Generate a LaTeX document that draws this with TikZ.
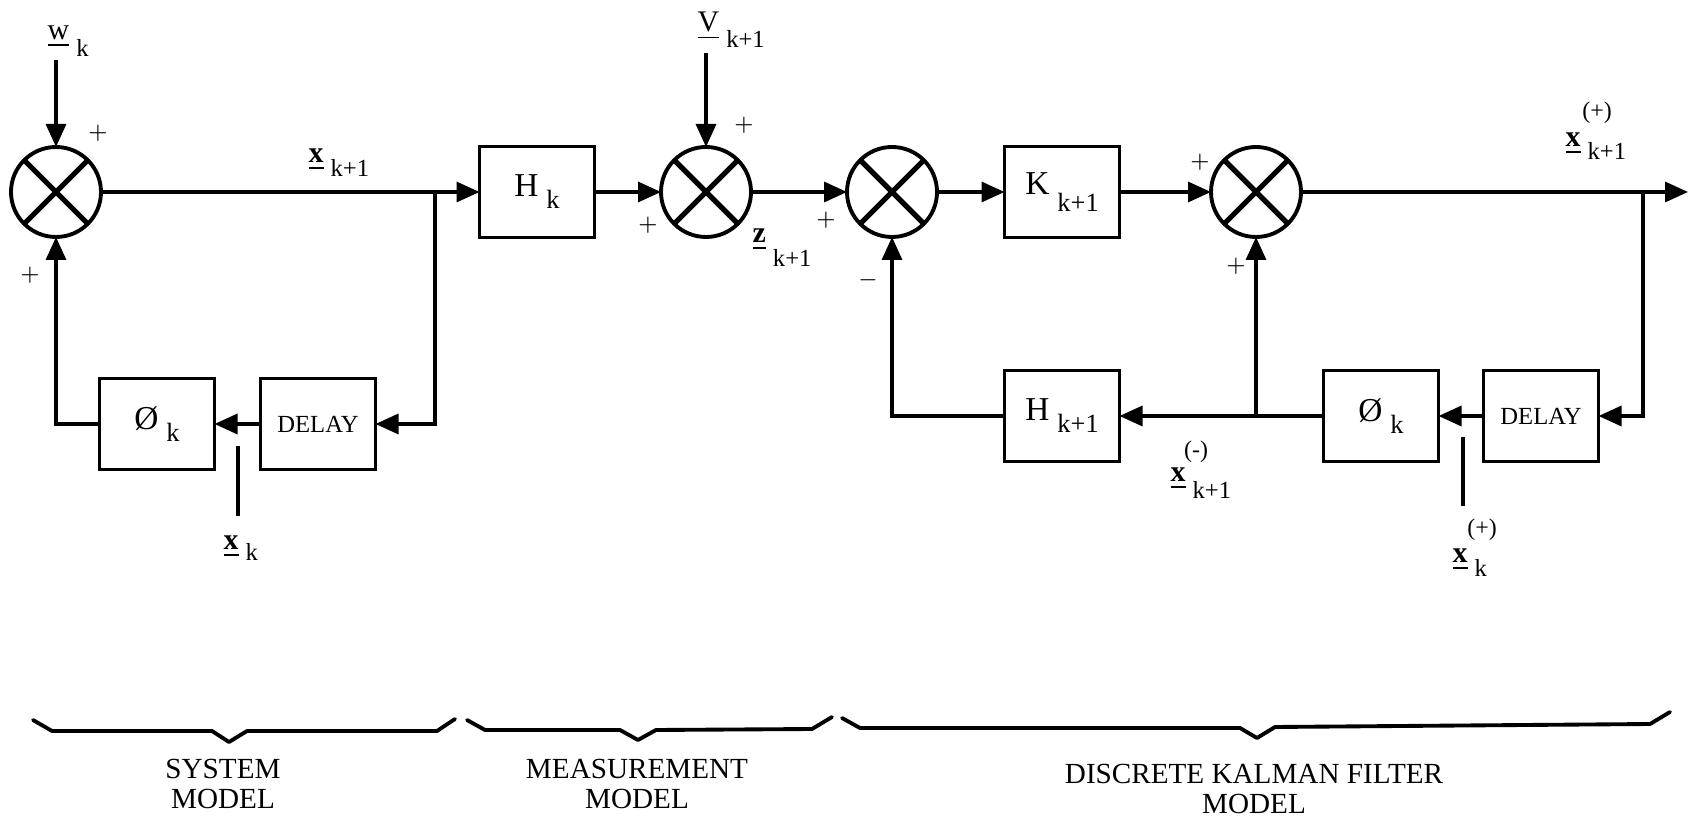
\documentclass[tikz,border=0pt]{standalone}
\usepackage{fontspec}
\setmainfont{Liberation Serif}
\usetikzlibrary{arrows.meta}

\newcommand{\blkl}[3][1.2mm]{#2\hspace{0.8mm}\raisebox{-#1}{\fontsize{7.5}{8}\selectfont #3}}
\newcommand{\sigl}[3][1.5mm]{\underline{#2}\hspace{0.7mm}\raisebox{-#1}{\fontsize{7}{8}\selectfont #3}}

\begin{document}
\begin{tikzpicture}[x=0.1mm,y=-0.1mm,
  wire/.style={line width=0.95pt},
  arr/.style={wire,-{Triangle[length=2.3mm,width=2mm]}},
  blkbox/.style={draw,line width=1.1pt,minimum width=11.5mm,minimum height=9.1mm,inner sep=0pt,outer sep=0pt,font=\fontsize{9.5}{11}\selectfont},
  sumj/.style={draw,circle,line width=1.1pt,minimum size=9mm,inner sep=0pt,outer sep=0pt,
    path picture={\draw[line width=1.5pt] (path picture bounding box.north west) -- (path picture bounding box.south east)
      (path picture bounding box.north east) -- (path picture bounding box.south west);}},
  lbl/.style={anchor=base west,inner sep=0pt,font=\fontsize{8.5}{10}\selectfont},
  supl/.style={inner sep=0pt,font=\fontsize{6.8}{8}\selectfont},
  pm/.style={inner sep=0pt,font=\fontsize{6}{7}\selectfont},
  brace/.style={line width=1.1pt,line join=round,line cap=round},
  grp/.style={align=center,inner sep=0pt,font=\fontsize{8.3}{8.7}\selectfont}]
  \path[use as bounding box,fill=white] (0,0) rectangle (1688,823);

  \node[sumj] (s1) at (56,192) {};
  \node[blkbox] (hk) at (537,192) {\blkl{H}{k}};
  \node[sumj] (s2) at (706,192) {};
  \node[sumj] (s3) at (892,192) {};
  \node[blkbox] (kk) at (1062,192) {\blkl[1.7mm]{K}{k+1}};
  \node[sumj] (s4) at (1256,192) {};
  \node[blkbox] (phi1) at (157,424) {\blkl{\O}{k}};
  \node[blkbox] (del1) at (318,424) {\fontsize{7}{8}\selectfont DELAY};
  \node[blkbox] (hk1) at (1062,416) {\blkl{H}{k+1}};
  \node[blkbox] (phi2) at (1381,416) {\blkl{\O}{k}};
  \node[blkbox] (del2) at (1541,416) {\fontsize{7}{8}\selectfont DELAY};

  \coordinate (b1) at (435,192);
  \coordinate (b2) at (1643,192);
  \coordinate (b3) at (1256,416);
  \coordinate (wout) at (1688,192);
  \coordinate (win) at (56,60);
  \coordinate (vin) at (706,53);
  \coordinate (xa) at (238,446);
  \coordinate (xb) at (238,516);
  \coordinate (xc) at (1463,437);
  \coordinate (xd) at (1463,506);

  \draw[arr] (win) -- (s1.north);
  \draw[arr] (s1.east) -- (hk.west);
  \draw[arr] (b1) |- (del1.east);
  \draw[arr] (del1.west) -- (phi1.east);
  \draw[arr] (phi1.west) -| (s1.south);
  \draw[wire] (xa) -- (xb);
  \draw[arr] (hk.east) -- (s2.west);
  \draw[arr] (vin) -- (s2.north);
  \draw[arr] (s2.east) -- (s3.west);
  \draw[arr] (s3.east) -- (kk.west);
  \draw[arr] (kk.east) -- (s4.west);
  \draw[arr] (s4.east) -- (wout);
  \draw[arr] (b2) |- (del2.east);
  \draw[arr] (del2.west) -- (phi2.east);
  \draw[arr] (phi2.west) -- (hk1.east);
  \draw[arr] (b3) -- (s4.south);
  \draw[arr] (hk1.west) -| (s3.south);
  \draw[wire] (xc) -- (xd);

  \node[lbl] (wk) at (47,40) {\sigl[1.7mm]{w}{k}};
  \node[lbl] (xk1) at (308,163) {\sigl[1.4mm]{\textbf{x}}{k+1}};
  \node[lbl] (vk1) at (697,32) {\sigl[1.6mm]{V}{k+1}};
  \node[lbl] (zk1) at (752,243) {\sigl[2.4mm]{\textbf{z}}{k+1}};
  \node[lbl] (xk) at (223,550) {\sigl[1.1mm]{\textbf{x}}{k}};
  \node[lbl] (xm) at (1170,482) {\sigl[1.7mm]{\textbf{x}}{k+1}};
  \node[lbl] (xp) at (1452,563) {\sigl[1.4mm]{\textbf{x}}{k}};
  \node[lbl] (xpk1) at (1565,147) {\sigl[1.3mm]{\textbf{x}}{k+1}};
  \node[supl] (xmsup) at (1196,452) {(-)};
  \node[supl] (xpsup) at (1482,530) {(+)};
  \node[supl] (xpk1sup) at (1597,113) {(+)};

  \foreach \n/\x/\y/\t in {p1/98/133/+,p2/30/275/+,p3/744/125/+,p4/648/225/+,p5/826/220/+,p6/1200/162/+,p7/1236/266/+,p8/868/280/-}
    \node[pm] (\n) at (\x,\y) {$\t$};

  \draw[brace] (33,720) -- (52,731) -- (212,731) -- (229,742) -- (247,731) -- (437,731) -- (455,719);
  \draw[brace] (467,720) -- (485,730) -- (620,730) -- (638,740) -- (656,730) -- (812,729) -- (832,717);
  \draw[brace] (842,718) -- (860,728) -- (1240,728) -- (1257,738) -- (1275,727) -- (1650,724) -- (1670,712);

  \node[grp] (sysm) at (223,784) {SYSTEM\\MODEL};
  \node[grp] (measm) at (637,784) {MEASUREMENT\\MODEL};
  \node[grp] (kfm) at (1254,789) {DISCRETE KALMAN FILTER\\MODEL};
\end{tikzpicture}
\end{document}
